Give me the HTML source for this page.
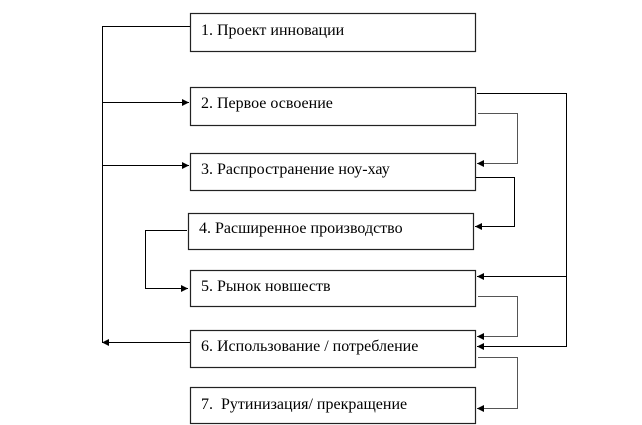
<!DOCTYPE html>
<html><head><meta charset="utf-8"><style>
html,body{margin:0;padding:0;background:#fff;}
svg{display:block;}
text{font-family:"Liberation Serif","Noto Serif CJK SC",serif;font-size:16px;fill:#000;}
</style></head><body>
<svg width="642" height="425" viewBox="0 0 642 425" xmlns="http://www.w3.org/2000/svg">
<defs>
<marker id="a" viewBox="0 0 10 10" refX="10" refY="5" markerWidth="10" markerHeight="7" markerUnits="userSpaceOnUse" orient="auto">
<path d="M0,0 L10,5 L0,10 z" fill="#000"/>
</marker>
</defs>
<g fill="#fff" stroke="#222" stroke-width="1.2">
<rect x="190.5" y="13.5" width="285" height="38"/>
<rect x="190.5" y="87.5" width="285" height="38"/>
<rect x="190.5" y="153.5" width="285" height="37"/>
<rect x="188.5" y="213.5" width="285" height="36"/>
<rect x="190.5" y="270.5" width="285" height="36"/>
<rect x="190.5" y="330.5" width="285" height="37"/>
<rect x="190.5" y="387.5" width="285" height="36"/>
</g>
<g>
<text x="201" y="35">1. Проект инновации</text>
<text x="201" y="108">2. Первое освоение</text>
<text x="201" y="174">3. Распространение ноу-хау</text>
<text x="199" y="233">4. Расширенное производство</text>
<text x="201" y="291">5. Рынок новшеств</text>
<text x="201" y="351">6. Использование / потребление</text>
<text x="201" y="409">7.&#160; Рутинизация/ прекращение</text>
</g>
<g fill="none" stroke="#000" stroke-width="1">
<path d="M190,26.5 H102.5 V342"/>
<path d="M102.5,102.5 H189" marker-end="url(#a)"/>
<path d="M102.5,165.5 H189" marker-end="url(#a)"/>
<path d="M190,342.5 H102" marker-end="url(#a)"/>
<path d="M187,230.5 H145.5 V288.5 H188" marker-end="url(#a)"/>
<path d="M477,93.5 H566.5 V346.5 H477" marker-end="url(#a)"/>
<path d="M566.5,276.5 H477" marker-end="url(#a)"/>
<path d="M478,113.5 H517.5 V163.5 H477" marker-end="url(#a)" stroke="#555"/>
<path d="M476,177.5 H514.5 V226.5 H475" marker-end="url(#a)"/>
<path d="M478,296.5 H517.5 V336.5 H477" marker-end="url(#a)" stroke="#555"/>
<path d="M478,357.5 H517.5 V408.5 H477" marker-end="url(#a)" stroke="#555"/>
</g>
</svg>
</body></html>
